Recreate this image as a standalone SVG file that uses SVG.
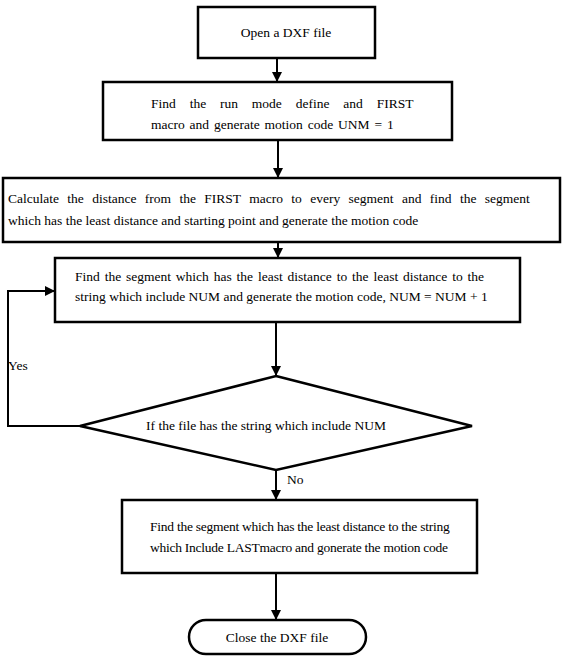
<svg xmlns="http://www.w3.org/2000/svg" width="564" height="666" viewBox="0 0 564 666">
<defs>
<style>
.box{fill:#fff;stroke:#000;stroke-width:2.5}
.ln{fill:none;stroke:#000;stroke-width:2}
.t{font-family:"Liberation Serif","DejaVu Serif",serif;font-size:13.5px;fill:#000}
.c{text-anchor:middle}
</style>
<marker id="ah" viewBox="0 0 10 10" refX="9" refY="5" markerWidth="5" markerHeight="5" orient="auto"><path d="M0,0 L10,5 L0,10 z" fill="#000"/></marker>
</defs>
<rect width="564" height="666" fill="#fff"/>
<g id="connectors">
<line class="ln" x1="277" y1="58" x2="277" y2="81" marker-end="url(#ah)"/>
<line class="ln" x1="278" y1="140" x2="278" y2="177" marker-end="url(#ah)"/>
<line class="ln" x1="278" y1="242" x2="278" y2="257" marker-end="url(#ah)"/>
<line class="ln" x1="276" y1="322" x2="276" y2="375" marker-end="url(#ah)"/>
<polyline class="ln" points="80,426 8,426 8,291 54,291" marker-end="url(#ah)"/>
<line class="ln" x1="276" y1="470" x2="276" y2="499" marker-end="url(#ah)"/>
<line class="ln" x1="276" y1="573" x2="276" y2="619" marker-end="url(#ah)"/>
<text class="t" x="8" y="370">Yes</text>
<text class="t" x="287" y="484">No</text>
</g>
<g id="n1"><rect class="box" x="198" y="7" width="177" height="51"/><text class="t c" x="286" y="37">Open a DXF file</text></g>
<g id="n2"><rect class="box" x="103" y="82" width="349" height="58"/><text class="t" x="151" y="108" word-spacing="10.5">Find the run mode define and FIRST</text><text class="t" x="151" y="129" word-spacing="1.5">macro and generate motion code UNM = 1</text></g>
<g id="n3"><rect class="box" x="3" y="178" width="557" height="64"/><text class="t" x="8" y="203" word-spacing="5">Calculate the distance from the FIRST macro to every segment and find the segment</text><text class="t" x="8" y="225">which has the least distance and starting point and generate the motion code</text></g>
<g id="n4"><rect class="box" x="55" y="258" width="465" height="64"/><text class="t" x="75" y="281" word-spacing="1.5">Find the segment which has the least distance to the least distance to the</text><text class="t" x="75" y="301">string which include NUM and generate the motion code, NUM = NUM + 1</text></g>
<g id="n5"><polygon class="box" points="276,376 472,426 276,470 80,426"/><text class="t c" x="266" y="430">If the file has the string which include NUM</text></g>
<g id="n6"><rect class="box" x="122" y="500" width="355" height="73"/><text class="t" x="150" y="531" letter-spacing="-0.25">Find the segment which has the least distance to the string</text><text class="t" x="150" y="552" letter-spacing="-0.25">which Include LASTmacro and gonerate the motion code</text></g>
<g id="n7"><rect class="box" x="189" y="620" width="177" height="34" rx="17"/><text class="t c" x="277" y="642">Close the DXF file</text></g>
</svg>
